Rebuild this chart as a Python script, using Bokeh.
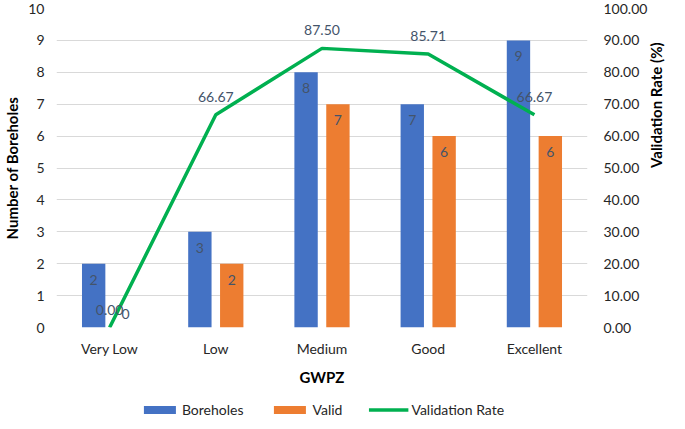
import math
from bokeh.plotting import figure
from bokeh.layouts import column
from bokeh.models import (Range1d, LinearAxis, FactorRange, ColumnDataSource, Legend,
                          LegendItem, NumeralTickFormatter, FixedTicker)
from bokeh.transform import dodge
from bokeh.embed import file_html
from bokeh.resources import INLINE
from bokeh.core.properties import value

categories = ["Very Low", "Low", "Medium", "Good", "Excellent"]
boreholes = [2, 3, 8, 7, 9]
valid = [0, 2, 7, 6, 6]
rate = [0.00, 66.67, 87.50, 85.71, 66.67]
left_ticks = list(range(0, 11))
right_ticks = list(range(0, 101, 10))
series_names = ["Boreholes", "Valid", "Validation Rate"]

FONT = "Lato"
LBL = "#44546A"
BLUE = "#4472C4"
ORANGE = "#ED7D31"
GREEN = "#00B050"

src = ColumnDataSource(dict(
    cat=categories, boreholes=boreholes, valid=valid, rate=rate,
    b_lbl=[str(v) for v in boreholes],
    r_lbl=["%.2f" % v for v in rate],
))
v_pos = ColumnDataSource(dict(
    cat=[c for c, v in zip(categories, valid) if v > 0],
    valid=[v for v in valid if v > 0],
    lbl=[str(v) for v in valid if v > 0],
))
v_zero = ColumnDataSource(dict(
    cat=[c for c, v in zip(categories, valid) if v == 0],
    valid=[v for v in valid if v == 0],
    lbl=[str(v) for v in valid if v == 0],
))

p = figure(width=677, height=397, x_range=FactorRange(*categories),
           y_range=Range1d(0, 10), output_backend="svg", toolbar_location=None,
           min_border_top=8, min_border_left=2, min_border_right=0, min_border_bottom=70)
p.extra_y_ranges = {"rate": Range1d(0, 100)}
p.outline_line_color = None
p.background_fill_color = "white"

p.vbar(x=dodge("cat", -0.15, range=p.x_range), top="boreholes", width=0.22,
       source=src, fill_color=BLUE, line_color=None)
p.vbar(x=dodge("cat", 0.15, range=p.x_range), top="valid", width=0.22,
       source=src, fill_color=ORANGE, line_color=None)
p.line(x="cat", y="rate", source=src, y_range_name="rate",
       line_color=GREEN, line_width=3.5)

common = dict(text_font=value(FONT), text_font_size="14px", text_color=LBL,
              text_align="center")
p.text(x=dodge("cat", -0.15, range=p.x_range), y="boreholes", text="b_lbl",
       source=src, text_baseline="top", y_offset=11, **common)
p.text(x=dodge("cat", 0.15, range=p.x_range), y="valid", text="lbl",
       source=v_pos, text_baseline="top", y_offset=11, **common)
p.text(x=dodge("cat", 0.15, range=p.x_range), y="valid", text="lbl",
       source=v_zero, text_baseline="bottom", y_offset=-9, **common)
p.text(x="cat", y="rate", text="r_lbl", source=src, y_range_name="rate",
       text_baseline="bottom", y_offset=-13, **common)

# axes
p.xgrid.grid_line_color = None
p.ygrid.grid_line_color = "#D9D9D9"
p.ygrid.ticker = FixedTicker(ticks=left_ticks)

for ax in [p.xaxis[0], p.yaxis[0]]:
    ax.axis_line_color = None
    ax.major_tick_line_color = None
    ax.minor_tick_line_color = None
    ax.major_tick_out = 0
    ax.major_tick_in = 0
    ax.major_label_text_font = FONT
    ax.major_label_text_font_size = "14px"
    ax.major_label_text_color = "#262626"
    ax.axis_label_text_font = FONT
    ax.axis_label_text_font_size = "15px"
    ax.axis_label_text_font_style = "bold"
    ax.axis_label_text_color = "#000000"

p.yaxis[0].ticker = FixedTicker(ticks=left_ticks)
p.yaxis[0].axis_label = "Number of Boreholes"
p.yaxis[0].major_label_standoff = 12
p.yaxis[0].axis_label_standoff = 4
p.xaxis[0].axis_label = "GWPZ"
p.xaxis[0].major_label_standoff = 12
p.xaxis[0].axis_label_standoff = 8
p.xaxis[0].group_text_font = FONT

rax = LinearAxis(y_range_name="rate", ticker=FixedTicker(ticks=right_ticks),
                 formatter=NumeralTickFormatter(format="0.00"),
                 axis_label="Validation Rate (%)")
rax.axis_line_color = None
rax.major_tick_line_color = None
rax.minor_tick_line_color = None
rax.major_tick_out = 0
rax.major_tick_in = 0
rax.major_label_text_font = FONT
rax.major_label_text_font_size = "14px"
rax.major_label_text_color = "#262626"
rax.major_label_standoff = 16
rax.axis_label_standoff = 6
rax.axis_label_orientation = math.pi / 2
rax.axis_label_text_font = FONT
rax.axis_label_text_font_size = "15px"
rax.axis_label_text_font_style = "bold"
rax.axis_label_text_color = "#000000"
p.add_layout(rax, "right")

# legend strip below the chart: same series, drawn outside its visible range
lg = figure(width=677, height=24, x_range=FactorRange(*categories),
            y_range=Range1d(1000, 1001),
            output_backend="svg", toolbar_location=None,
            x_axis_location=None, y_axis_location=None,
            min_border_top=0, min_border_bottom=0, min_border_left=0, min_border_right=0)
lg.outline_line_color = None
lg.xgrid.grid_line_color = None
lg.ygrid.grid_line_color = None
l1 = lg.vbar(x="cat", top="boreholes", width=0.22, source=src,
             fill_color=BLUE, line_color=None)
l2 = lg.vbar(x="cat", top="valid", width=0.22, source=src,
             fill_color=ORANGE, line_color=None)
l3 = lg.line(x="cat", y="rate", source=src, line_color=GREEN, line_width=3.5)

legend = Legend(items=[LegendItem(label=n, renderers=[r])
                       for n, r in zip(series_names, [l1, l2, l3])],
                orientation="horizontal", location="center")
legend.border_line_color = None
legend.background_fill_alpha = 0
legend.label_text_font = FONT
legend.label_text_font_size = "14px"
legend.label_text_color = "#262626"
legend.glyph_width = 40
legend.glyph_height = 10
legend.spacing = 26
legend.label_standoff = 3
legend.padding = 2
legend.margin = 0
lg.add_layout(legend, "center")

layout = column(p, lg, spacing=0)
open("out.html", "w").write(file_html(layout, INLINE))
